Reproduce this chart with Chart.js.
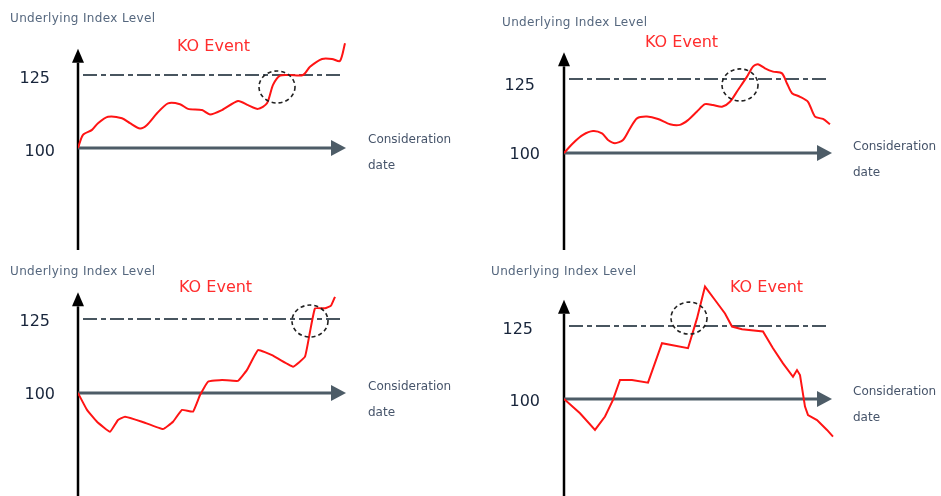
<!DOCTYPE html>
<html>
<head>
<meta charset="utf-8">
<script src="https://cdn.jsdelivr.net/npm/chart.js@4.4.0/dist/chart.umd.min.js"></script>
<style>
  html, body { margin: 0; padding: 0; background: #fff; }
  body { width: 941px; height: 496px; position: relative; overflow: hidden; }
  canvas { position: absolute; }
</style>
</head>
<body>
<canvas id="c1" width="470" height="250" style="left:0;top:0"></canvas>
<canvas id="c2" width="471" height="250" style="left:470px;top:0"></canvas>
<canvas id="c3" width="470" height="246" style="left:0;top:250px"></canvas>
<canvas id="c4" width="471" height="246" style="left:470px;top:250px"></canvas>
<script>
// Path of the underlying index for each of the four scenarios (day, level)
const days1 = [0, 5, 14, 20, 30, 44, 52, 62, 69, 79, 90, 102, 110, 124, 132, 144, 160, 170, 180, 189, 195, 202, 212, 225, 232, 244, 254, 262, 267];
const level1 = [100, 104.5, 106.2, 108.5, 110.7, 110.2, 108.5, 106.7, 107.9, 111.9, 115.3, 115.0, 113.4, 113.0, 111.5, 113.0, 116.1, 114.7, 113.4, 115.3, 121.6, 124.8, 125.0, 125.0, 127.8, 130.5, 130.5, 129.8, 135.9];

const days2 = [0, 9, 19, 29, 38, 44, 51, 59, 66, 73, 83, 94, 106, 116, 124, 133, 141, 149, 158, 166, 174, 183, 189, 194, 201, 209, 218, 223, 228, 236, 244, 251, 259, 266];
const level2 = [100, 103.3, 106.1, 107.4, 106.6, 104.4, 103.3, 104.4, 108.3, 111.7, 112.3, 111.5, 109.7, 109.5, 111.1, 114.0, 116.5, 116.2, 115.6, 117.3, 121.3, 125.8, 129.2, 130.0, 128.6, 127.5, 126.9, 123.5, 120.2, 119.0, 117.3, 112.3, 111.5, 109.7];

const days3 = [0, 9, 19, 32, 40, 47, 64, 85, 95, 104, 115, 122, 130, 144, 160, 169, 180, 194, 215, 227, 232, 237, 247, 253, 257];
const level3 = [100, 94.3, 90.3, 86.9, 90.9, 92.0, 90.3, 87.8, 90.3, 94.3, 93.7, 99.3, 103.8, 104.4, 104.1, 107.8, 114.5, 112.8, 108.9, 112.3, 120.7, 128.6, 128.6, 129.5, 132.5];

const days4 = [0, 16, 31, 41, 49, 56, 68, 84, 98, 124, 133, 141, 151, 161, 168, 178, 199, 209, 219, 229, 233, 236, 241, 244, 253, 263, 269];
const level4 = [100, 95.1, 89.4, 94.0, 99.7, 106.5, 106.5, 105.6, 119.1, 117.4, 127.6, 138.5, 133.9, 129.3, 124.8, 123.9, 123.1, 117.4, 112.2, 107.6, 109.9, 108.2, 97.4, 94.5, 92.8, 89.4, 87.1];

// Barrier and tick labels
const yTicks = [125, 100];
const barrierLevel = 125;
const barrierDays = [5, 263];
// KO point (day, level) marked by the dashed circle
const koPoints = [[199, 120.9], [176, 123.0], [232, 124.3], [125, 127.7]];

const yAxisTitle = 'Underlying Index Level';
const xAxisTitle = ['Consideration', 'date'];
const koLabel = 'KO Event';

const FONT = '"DejaVu Sans", Verdana, sans-serif';

function drawArrow(ctx, x1, y1, x2, y2, color, width, headLen, headHalf) {
  const ang = Math.atan2(y2 - y1, x2 - x1);
  const bx = x2 - Math.cos(ang) * headLen, by = y2 - Math.sin(ang) * headLen;
  ctx.save();
  ctx.strokeStyle = color;
  ctx.fillStyle = color;
  ctx.lineWidth = width;
  ctx.beginPath();
  ctx.moveTo(x1, y1);
  ctx.lineTo(bx, by);
  ctx.stroke();
  ctx.beginPath();
  ctx.moveTo(x2, y2);
  ctx.lineTo(bx - Math.sin(ang) * headHalf, by + Math.cos(ang) * headHalf);
  ctx.lineTo(bx + Math.sin(ang) * headHalf, by - Math.cos(ang) * headHalf);
  ctx.closePath();
  ctx.fill();
  ctx.restore();
}

// Draws the axes with arrows, labels and the KO circle
const koDiagram = {
  id: 'koDiagram',
  beforeDatasetsDraw(chart, args, o) {
    const ctx = chart.ctx, xs = chart.scales.x, ys = chart.scales.y;
    const ox = xs.getPixelForValue(0), oy = ys.getPixelForValue(100);
    // y axis (black)
    drawArrow(ctx, ox, chart.height, ox, ys.getPixelForValue(134), '#000', 2.5, 14, 6);
    // x axis (slate)
    drawArrow(ctx, ox, oy, xs.getPixelForValue(268), oy, '#4d5c67', 3.2, 15, 8);
  },
  afterDatasetsDraw(chart, args, o) {
    const ctx = chart.ctx, xs = chart.scales.x, ys = chart.scales.y;
    ctx.save();
    // dashed ellipse around the KO point
    const cx = xs.getPixelForValue(o.ko[0]), cy = ys.getPixelForValue(o.ko[1]);
    ctx.strokeStyle = '#222';
    ctx.lineWidth = 1.6;
    ctx.setLineDash([4, 3]);
    ctx.beginPath();
    ctx.ellipse(cx, cy, 18, 16, 0, 0, Math.PI * 2);
    ctx.stroke();
    ctx.setLineDash([]);

    ctx.textBaseline = 'middle';
    // y axis title
    ctx.font = '12px ' + FONT;
    ctx.letterSpacing = '0.35px';
    ctx.fillStyle = '#55677e';
    ctx.textAlign = 'left';
    ctx.fillText(yAxisTitle, o.title[0], o.title[1]);
    ctx.letterSpacing = '0px';

    // tick labels
    ctx.font = '16px ' + FONT;
    ctx.fillStyle = '#17243a';
    ctx.textAlign = 'right';
    yTicks.forEach((t, i) => {
      ctx.fillText(String(t), o.tickRight[i], ys.getPixelForValue(t) + o.tickOff[i]);
    });

    // x axis title
    ctx.font = '12px ' + FONT;
    ctx.fillStyle = '#46546a';
    ctx.textAlign = 'left';
    ctx.fillText(xAxisTitle[0], o.xTitle[0], o.xTitle[1]);
    ctx.fillText(xAxisTitle[1], o.xTitle[0], o.xTitle[1] + 26);

    // KO label
    ctx.font = '16px ' + FONT;
    ctx.fillStyle = '#ff2d2d';
    ctx.fillText(koLabel, o.koText[0], o.koText[1]);
    ctx.restore();
  }
};

function makePanel(id, days, levels, pad, deco, tension) {
  new Chart(document.getElementById(id), {
    type: 'line',
    data: {
      datasets: [
        {
          data: days.map((d, i) => ({ x: d, y: levels[i] })),
          borderColor: '#ff1414',
          borderWidth: 2,
          pointRadius: 0,
          tension: tension,
          order: 0
        },
        {
          data: barrierDays.map(d => ({ x: d, y: barrierLevel })),
          borderColor: '#48555f',
          borderWidth: 1.8,
          borderDash: [14, 4, 5, 4],
          pointRadius: 0,
          order: 1
        }
      ]
    },
    options: {
      responsive: false,
      animation: false,
      events: [],
      layout: { padding: pad },
      scales: {
        x: { type: 'linear', min: 0, max: 270, display: false },
        y: { type: 'linear', min: 70, max: 145, display: false }
      },
      plugins: {
        legend: { display: false },
        tooltip: { enabled: false },
        koDiagram: deco
      }
    },
    plugins: [koDiagram]
  });
}

makePanel('c1', days1, level1, { left: 78, right: 122, top: 16.6, bottom: 14.4 },
  { ko: koPoints[0], title: [10, 19], tickRight: [50, 55], tickOff: [4, 4], xTitle: [368, 140], koText: [177, 47] }, 0.25);
makePanel('c2', days2, level2, { left: 94, right: 107, top: 19.8, bottom: 8.2 },
  { ko: koPoints[1], title: [32, 23], tickRight: [65, 70], tickOff: [7, 2], xTitle: [383, 147], koText: [175, 43] }, 0.25);
makePanel('c3', days3, level3, { left: 78, right: 122, top: 9.8, bottom: 14.2 },
  { ko: koPoints[2], title: [10, 22], tickRight: [50, 55], tickOff: [3, 2], xTitle: [368, 137], koText: [179, 38] }, 0.1);
makePanel('c4', days4, level4, { left: 94, right: 107, top: 17.6, bottom: 9.4 },
  { ko: koPoints[3], title: [21, 22], tickRight: [63, 70], tickOff: [4, 3], xTitle: [383, 142], koText: [260, 38] }, 0);
</script>
</body>
</html>
